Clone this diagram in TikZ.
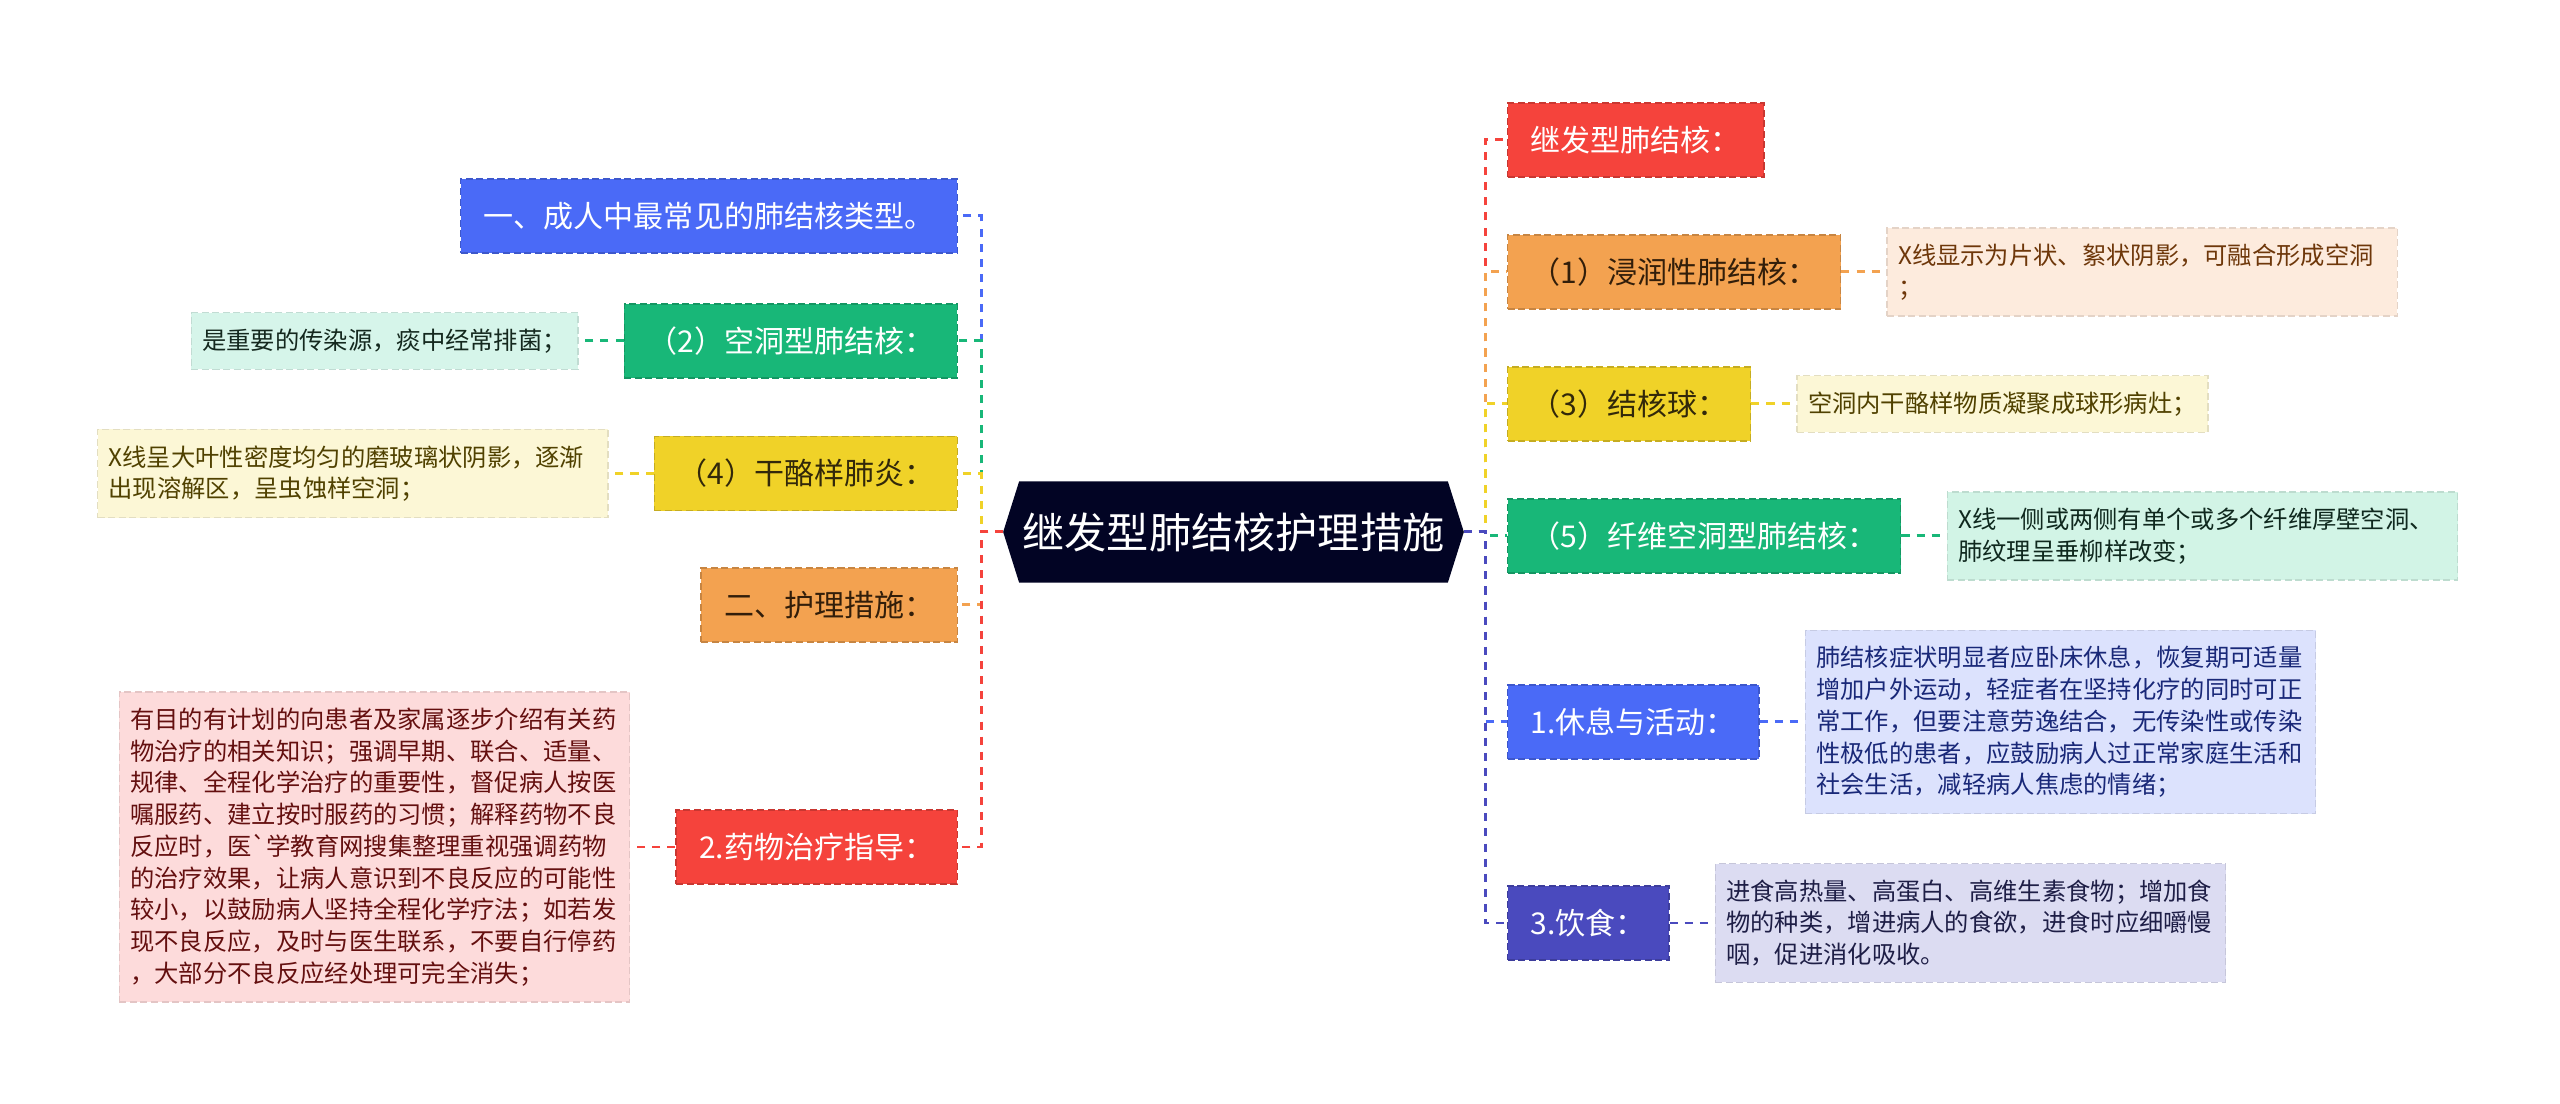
\documentclass[tikz,border=0pt]{standalone}
\usepackage{fontspec}
\setmainfont{Noto Sans CJK SC}
\usetikzlibrary{positioning,backgrounds}

\definecolor{rootbg}{RGB}{2,4,36}
\definecolor{cblue}{RGB}{74,106,247}
\definecolor{cgreen}{RGB}{24,183,120}
\definecolor{cyellow}{RGB}{240,210,40}
\definecolor{corange}{RGB}{243,162,80}
\definecolor{cred}{RGB}{245,67,60}
\definecolor{cindigo}{RGB}{74,74,190}
\definecolor{lgreen}{RGB}{214,245,234}
\definecolor{lyellow}{RGB}{252,247,214}
\definecolor{lpink}{RGB}{253,219,219}
\definecolor{lpeach}{RGB}{253,235,221}
\definecolor{lmint}{RGB}{210,244,230}
\definecolor{lblue}{RGB}{220,226,253}
\definecolor{lindigo}{RGB}{220,220,242}

\begin{document}
\begin{tikzpicture}[x=0.01cm,y=-0.01cm,
  branch/.style={fill=#1,draw=#1!82!black,line width=0.4pt,dash pattern=on 2pt off 1pt,
    minimum height=0.74cm,inner xsep=0.23cm,inner ysep=0pt,
    font=\fontsize{8.54pt}{10pt}\selectfont},
  leaf/.style={fill=#1,draw=#1!90!black,line width=0.4pt,dash pattern=on 2pt off 1pt,
    inner xsep=0.11cm,inner ysep=0.16cm,align=left,
    font=\fontsize{6.91pt}{9.02pt}\selectfont},
  wide/.style={text width=4.88cm},
  link/.style={line width=0.85pt,dash pattern=on 2.3pt off 2pt}]
  \useasboundingbox (0,0) rectangle (2560,1104);

  \node[text=white,minimum width=4.59cm,minimum height=1cm,inner sep=0pt,
    font=\fontsize{12pt}{14pt}\selectfont] (root) at (1233.5,532) {继发型肺结核护理措施};
  \begin{scope}[on background layer]
    \fill[white] (0,0) rectangle (2560,1104);
    \fill[rootbg] (root.west) -- ([xshift=0.16cm]root.north west)
      -- ([xshift=-0.16cm]root.north east) -- (root.east)
      -- ([xshift=-0.16cm]root.south east) -- ([xshift=0.16cm]root.south west) -- cycle;
  \end{scope}
  \coordinate (lspine) at (981,532);
  \coordinate (rspine) at (1485,532);

  % left side
  \node[branch=cblue,text=white,anchor=east] (Ltype) at (958,216) {一、成人中最常见的肺结核类型。};
  \node[branch=cgreen,text=white,anchor=east] (Lcavity) at (958,341) {（2）空洞型肺结核：};
  \node[branch=cyellow,text={rgb,255:red,50;green,40;blue,10},anchor=east] (Lcaseous) at (958,473.5) {（4）干酪样肺炎：};
  \node[branch=corange,text={rgb,255:red,50;green,30;blue,10},anchor=east] (Lcare) at (958,605) {二、护理措施：};
  \node[branch=cred,text=white,anchor=east] (Ldrug) at (958,847) {2.药物治疗指导：};

  \node[leaf=lgreen,text={rgb,255:red,20;green,40;blue,30},left=0.45cm of Lcavity] (LcavityInfo)
    {是重要的传染源，痰中经常排菌；};
  \node[leaf=lyellow,wide,text={rgb,255:red,80;green,65;blue,0},left=0.45cm of Lcaseous] (LcaseousInfo)
    {X线呈大叶性密度均匀的磨玻璃状阴影，逐渐\\出现溶解区，呈虫蚀样空洞；};
  \node[leaf=lpink,wide,text={rgb,255:red,100;green,15;blue,15},left=0.45cm of Ldrug] (LdrugInfo)
    {有目的有计划的向患者及家属逐步介绍有关药\\物治疗的相关知识；强调早期、联合、适量、\\规律、全程化学治疗的重要性，督促病人按医\\嘱服药、建立按时服药的习惯；解释药物不良\\反应时，医\textasciigrave 学教育网搜集整理重视强调药物\\的治疗效果，让病人意识到不良反应的可能性\\较小，以鼓励病人坚持全程化学疗法；如若发\\现不良反应，及时与医生联系，不要自行停药\\，大部分不良反应经处理可完全消失；};

  \draw[link,cblue] (root.west) -- (lspine) |- (Ltype.east);
  \draw[link,cgreen] (root.west) -- (lspine) |- (Lcavity.east);
  \draw[link,cyellow] (root.west) -- (lspine) |- (Lcaseous.east);
  \draw[link,corange] (root.west) -- (lspine) |- (Lcare.east);
  \draw[link,cred] (root.west) -- (lspine) |- (Ldrug.east);
  \draw[link,cgreen] (Lcavity.west) -- (LcavityInfo.east);
  \draw[link,cyellow] (Lcaseous.west) -- (LcaseousInfo.east);
  \draw[link,cred] (Ldrug.west) -- (LdrugInfo.east);

  % right side
  \node[branch=cred,text=white,anchor=west] (Rsecond) at (1507,140) {继发型肺结核：};
  \node[branch=corange,text={rgb,255:red,50;green,30;blue,10},anchor=west] (Rinfil) at (1507,272) {（1）浸润性肺结核：};
  \node[branch=cyellow,text={rgb,255:red,50;green,40;blue,10},anchor=west] (Rball) at (1507,404) {（3）结核球：};
  \node[branch=cgreen,text=white,anchor=west] (Rfibro) at (1507,536) {（5）纤维空洞型肺结核：};
  \node[branch=cblue,text=white,anchor=west] (Rrest) at (1507,722) {1.休息与活动：};
  \node[branch=cindigo,text=white,anchor=west] (Rdiet) at (1507,923) {3.饮食：};

  \node[leaf=lpeach,wide,text={rgb,255:red,110;green,55;blue,10},right=0.45cm of Rinfil] (RinfilInfo)
    {X线显示为片状、絮状阴影，可融合形成空洞\\；};
  \node[leaf=lyellow,text={rgb,255:red,80;green,65;blue,0},right=0.45cm of Rball] (RballInfo)
    {空洞内干酪样物质凝聚成球形病灶；};
  \node[leaf=lmint,wide,text={rgb,255:red,15;green,40;blue,30},right=0.45cm of Rfibro] (RfibroInfo)
    {X线一侧或两侧有单个或多个纤维厚壁空洞、\\肺纹理呈垂柳样改变；};
  \node[leaf=lblue,wide,text={rgb,255:red,25;green,40;blue,120},right=0.45cm of Rrest] (RrestInfo)
    {肺结核症状明显者应卧床休息，恢复期可适量\\增加户外运动，轻症者在坚持化疗的同时可正\\常工作，但要注意劳逸结合，无传染性或传染\\性极低的患者，应鼓励病人过正常家庭生活和\\社会生活，减轻病人焦虑的情绪；};
  \node[leaf=lindigo,wide,text={rgb,255:red,30;green,30;blue,70},right=0.45cm of Rdiet] (RdietInfo)
    {进食高热量、高蛋白、高维生素食物；增加食\\物的种类，增进病人的食欲，进食时应细嚼慢\\咽，促进消化吸收。};

  \draw[link,cred] (root.east) -- (rspine) |- (Rsecond.west);
  \draw[link,corange] (root.east) -- (rspine) |- (Rinfil.west);
  \draw[link,cyellow] (root.east) -- (rspine) |- (Rball.west);
  \draw[link,cgreen] (root.east) -- (rspine) |- (Rfibro.west);
  \draw[link,cblue] (root.east) -- (rspine) |- (Rrest.west);
  \draw[link,cindigo] (root.east) -- (rspine) |- (Rdiet.west);
  \draw[link,corange] (Rinfil.east) -- (RinfilInfo.west);
  \draw[link,cyellow] (Rball.east) -- (RballInfo.west);
  \draw[link,cgreen] (Rfibro.east) -- (RfibroInfo.west);
  \draw[link,cblue] (Rrest.east) -- (RrestInfo.west);
  \draw[link,cindigo] (Rdiet.east) -- (RdietInfo.west);
\end{tikzpicture}
\end{document}
